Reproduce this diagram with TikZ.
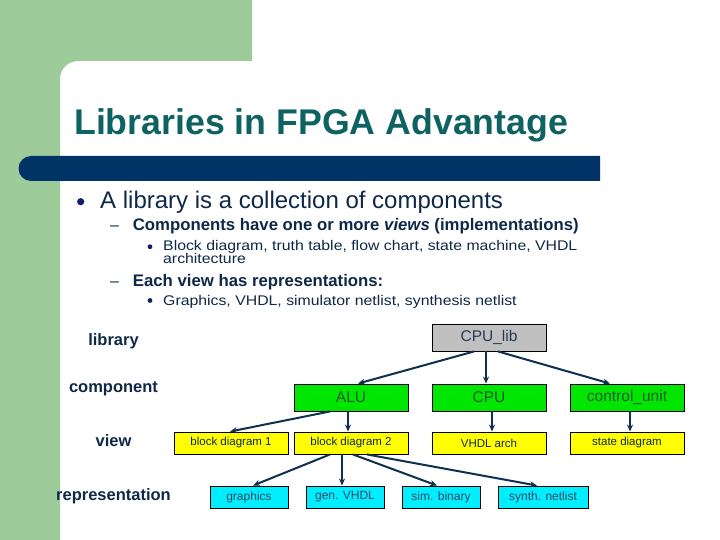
\documentclass[tikz,border=0pt]{standalone}
\usepackage{fontspec}
\setmainfont{Liberation Sans}
\newfontfamily\widesans[FakeStretch=1.13]{Liberation Sans}
\usetikzlibrary{arrows.meta}
\definecolor{sidegreen}{RGB}{157,203,153}
\definecolor{barblue}{RGB}{0,51,102}
\definecolor{titleteal}{RGB}{14,98,98}
\definecolor{navytext}{RGB}{15,40,71}
\definecolor{arrowblue}{RGB}{15,48,80}
\definecolor{boxgreen}{RGB}{0,230,0}
\definecolor{boxyellow}{RGB}{255,255,0}
\definecolor{boxcyan}{RGB}{0,238,255}
\definecolor{boxgray}{RGB}{192,192,192}
\definecolor{greentext}{RGB}{35,90,45}
\tikzset{
  box/.style={draw=black, line width=0.9pt, inner sep=0pt, anchor=center},
  libbox/.style={box, fill=boxgray, minimum width=114pt, minimum height=27pt, text=navytext!80!gray, font=\fontsize{15.5}{18}\selectfont},
  compbox/.style={box, fill=boxgreen, minimum width=114pt, minimum height=27pt, text=greentext, font=\fontsize{15.5}{18}\selectfont},
  viewbox/.style={box, fill=boxyellow, minimum width=114pt, minimum height=22pt, text=navytext, font=\fontsize{11.5}{13}\selectfont},
  repbox/.style={box, fill=boxcyan, minimum height=22pt, text=navytext!85!white, font=\fontsize{12}{14}\selectfont},
  conn/.style={draw=arrowblue, line width=2pt, -{Stealth[length=7pt,width=6pt]}},
  levellabel/.style={anchor=base, text=navytext, font=\bfseries\fontsize{16.5}{19}\selectfont},
  txt/.style={anchor=base west, text=navytext, inner sep=0pt},
  thirdtxt/.style={txt, font=\widesans\fontsize{14}{12.6}\selectfont},
}
\begin{document}
\begin{tikzpicture}[x=1pt,y=-1pt]
\useasboundingbox (0,0) rectangle (720,540);
\fill[white] (0,0) rectangle (720,540);
% green background
\fill[sidegreen] (0,0) -- (252,0) -- (252,61) -- (78,61) arc[start angle=-90,end angle=-180,radius=18] -- (60,540) -- (0,540) -- cycle;
% bar
\fill[barblue] (600,156) -- (31,156) arc[start angle=-90,end angle=-270,radius=12.5] -- (600,181) -- cycle;
% title
\node[anchor=base west, inner sep=0pt, text=titleteal, font=\bfseries\fontsize{35.7}{40}\selectfont] (title) at (74,135) {Libraries in FPGA Advantage};
% bullets
\fill[navytext!80!blue] (80.7,201.7) circle (3.6);
\node[txt, font=\fontsize{24}{28}\selectfont] (b1) at (100,208) {A library is a collection of components};
\node[txt, font=\fontsize{16}{19}\selectfont] (d1) at (110,230.7) {–};
\node[txt, font=\bfseries\fontsize{16.75}{19}\selectfont] (b2) at (132.7,230.7) {Components have one or more \textit{views} (implementations)};
\fill[navytext!80!blue] (150,246.7) circle (2.4);
\node[thirdtxt] (b3) at (163,251) {Block diagram, truth table, flow chart, state machine, VHDL};
\node[thirdtxt] (b3b) at (163,263.5) {architecture};
\node[txt, font=\fontsize{16}{19}\selectfont] (d2) at (110,286) {–};
\node[txt, font=\bfseries\fontsize{16.75}{19}\selectfont] (b4) at (132.7,286) {Each view has representations:};
\fill[navytext!80!blue] (150,300.5) circle (2.4);
\node[thirdtxt] (b5) at (163,305) {Graphics, VHDL, simulator netlist, synthesis netlist};
% level labels
\node[levellabel] (llib) at (113.5,345) {library};
\node[levellabel] (lcomp) at (113.5,392.7) {component};
\node[levellabel] (lview) at (113.5,446.7) {view};
\node[levellabel] (lrep) at (113.5,500.7) {representation};
% nodes
\node[libbox] (cpulib) at (489,337.5) {CPU\_lib};
\node[compbox] (alu) at (351,397.5) {ALU};
\node[compbox] (cpu) at (489,397.5) {CPU};
\node[compbox] (ctrl) at (627,397.5) {control\_unit};
\node[viewbox] (bd1) at (231,443) {block diagram 1};
\node[viewbox] (bd2) at (351,443) {block diagram 2};
\node[viewbox] (varch) at (489,443) {VHDL arch};
\node[viewbox] (sdiag) at (627,443) {state diagram};
\node[repbox, minimum width=78pt] (gfx) at (249,497) {graphics};
\node[repbox, minimum width=78pt] (gvhdl) at (345,497) {gen. VHDL};
\node[repbox, minimum width=78pt] (simb) at (441,497) {sim. binary};
\node[repbox, minimum width=90pt] (synn) at (543,497) {synth. netlist};
% connectors
\draw[conn] ([xshift=-15pt]cpulib.south) -- ([xshift=7pt]alu.north);
\draw[conn] ([xshift=-3pt]cpulib.south) -- ([xshift=-3pt]cpu.north);
\draw[conn] ([xshift=9pt]cpulib.south) -- ([xshift=-17pt]ctrl.north);
\draw[conn] ([xshift=-21pt]alu.south) -- ([xshift=-1pt]bd1.north);
\draw[conn] ([xshift=-3pt]alu.south) -- ([xshift=-3pt]bd2.north);
\draw[conn] ([xshift=3pt]cpu.south) -- ([xshift=3pt]varch.north);
\draw[conn] ([xshift=3pt]ctrl.south) -- ([xshift=3pt]sdiag.north);
\draw[conn] ([xshift=-21pt]bd2.south) -- ([xshift=4pt]gfx.north);
\draw[conn] ([xshift=-9pt]bd2.south) -- ([xshift=-3pt]gvhdl.north);
\draw[conn] ([xshift=2pt]bd2.south) -- ([xshift=-4pt]simb.north);
\draw[conn] ([xshift=16pt]bd2.south) -- ([xshift=-6pt]synn.north);
\end{tikzpicture}
\end{document}
